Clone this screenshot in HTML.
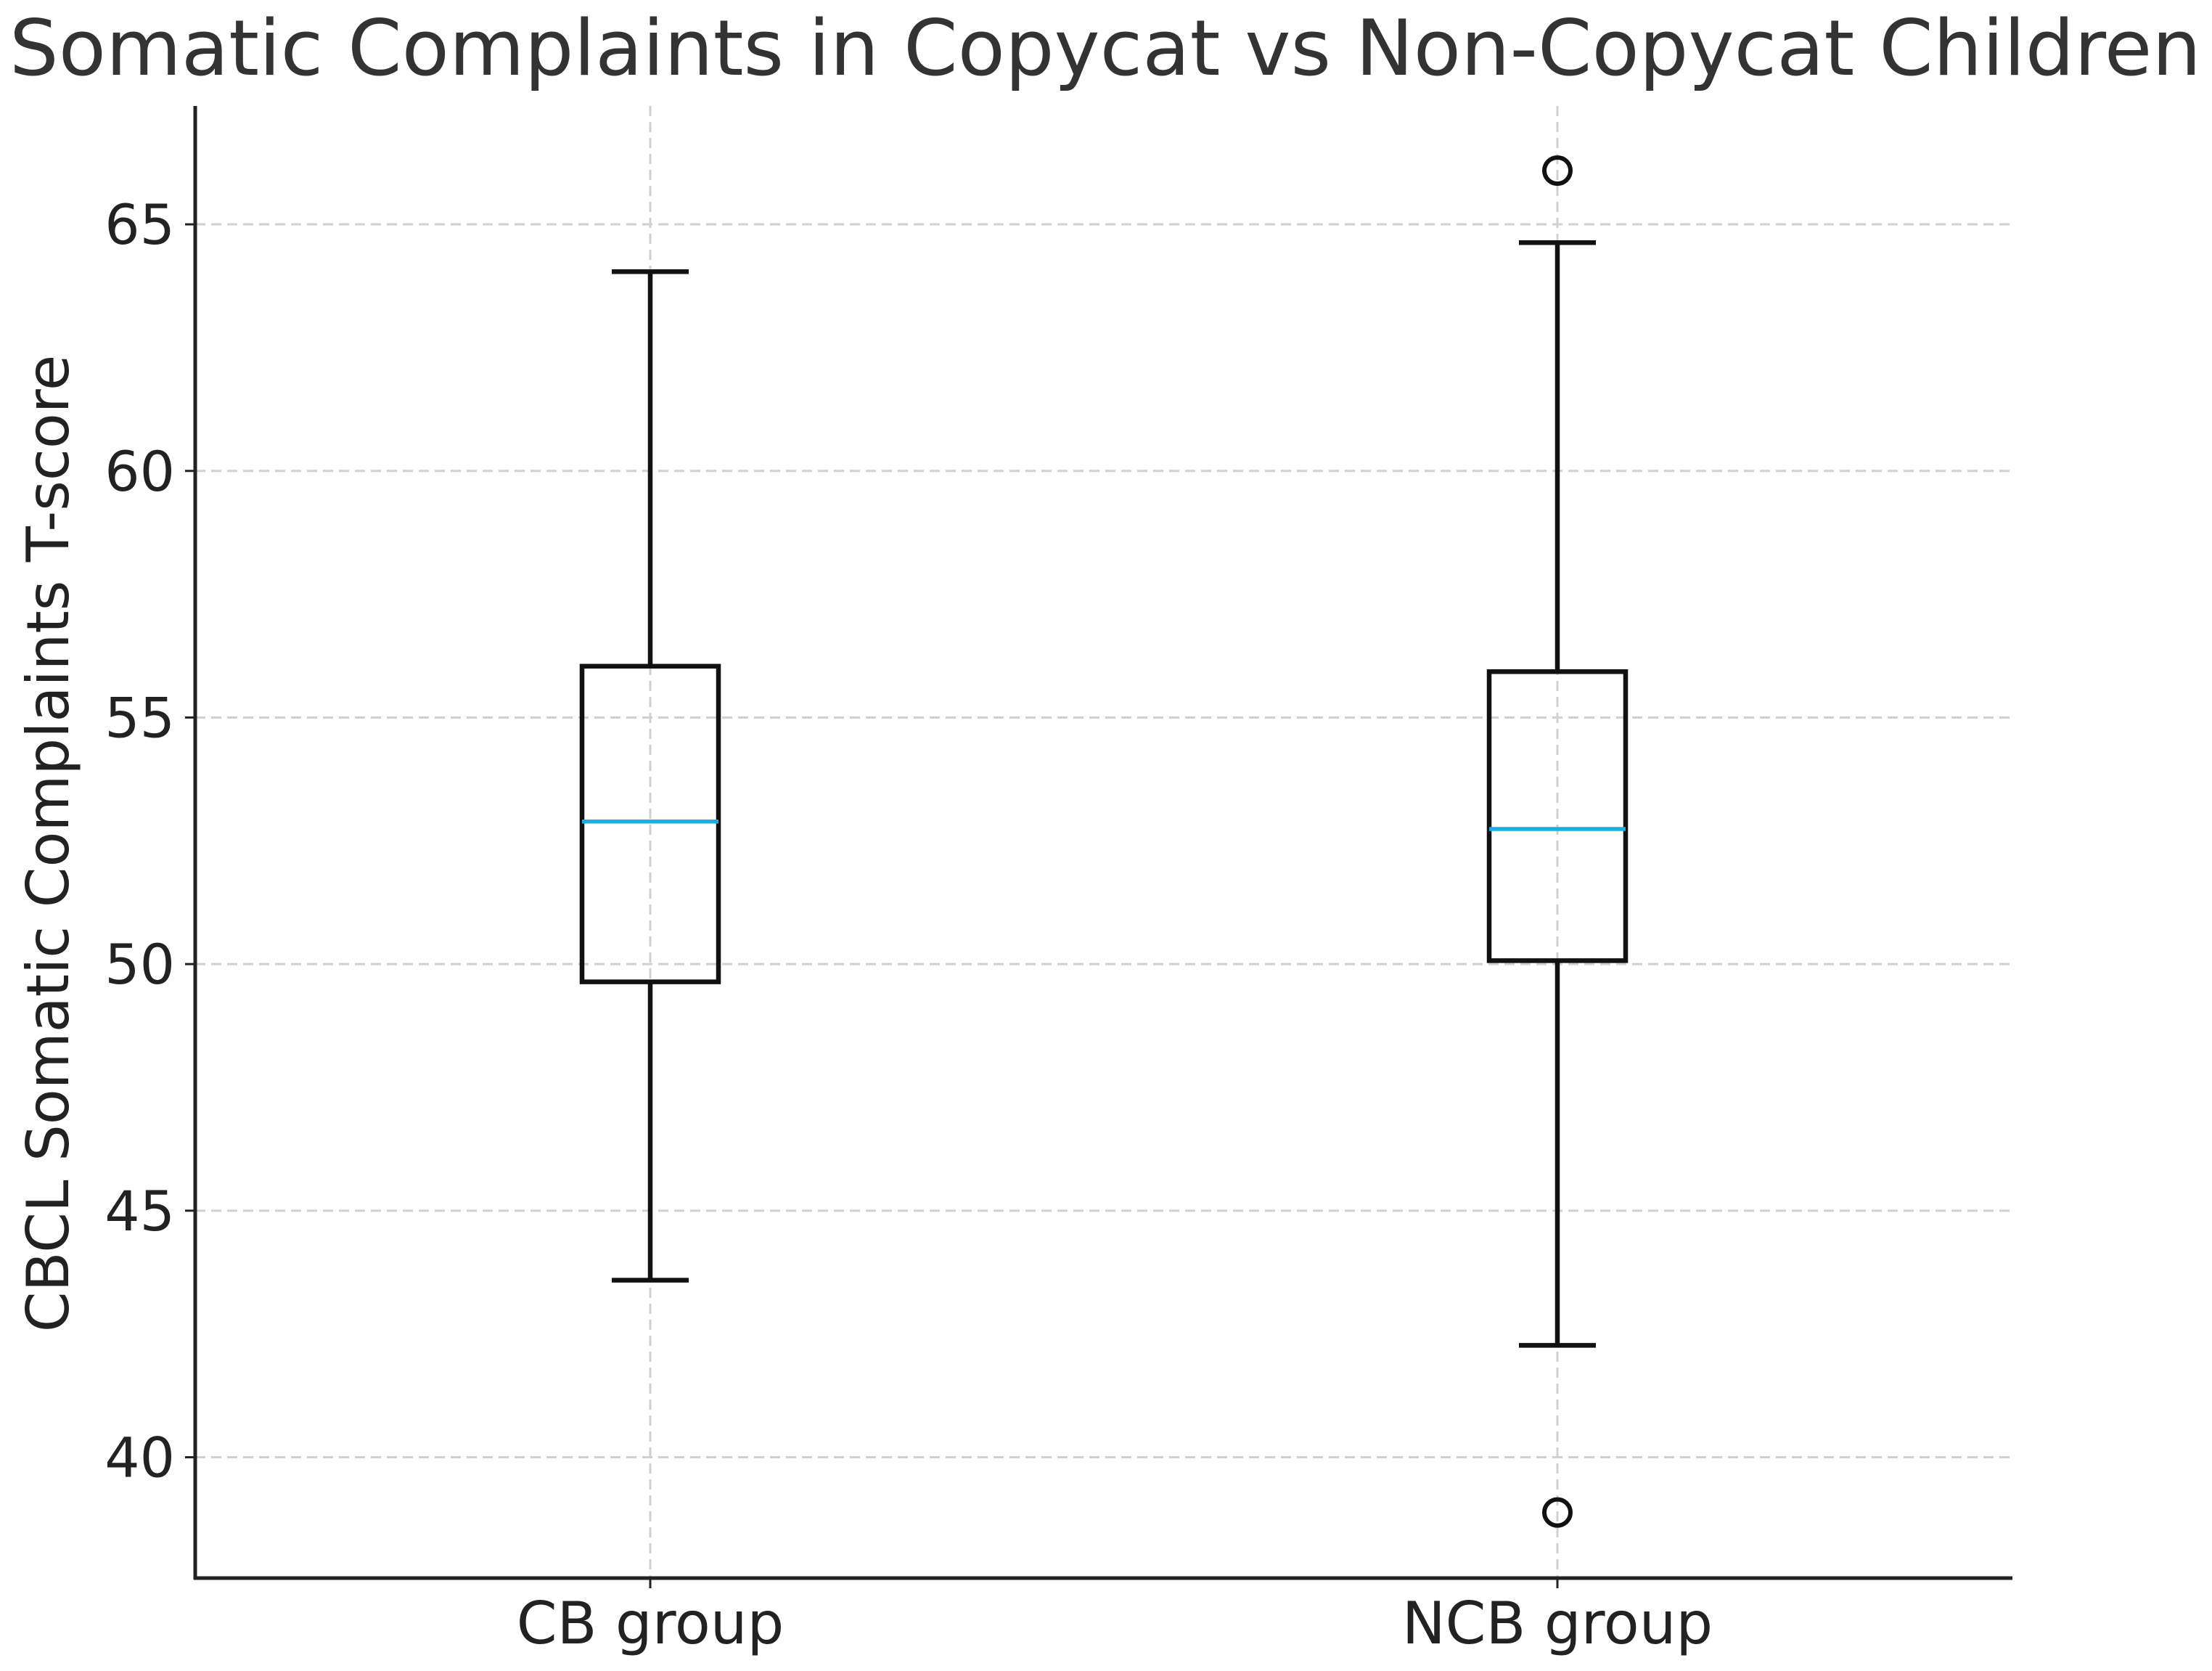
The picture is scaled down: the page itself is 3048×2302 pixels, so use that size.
<!DOCTYPE html>
<html><head><meta charset="utf-8"><style>
html,body{margin:0;padding:0;background:#fff}
svg{display:block;font-family:"DejaVu Sans","Liberation Sans",sans-serif}
</style></head><body>
<svg id="chart" width="3048" height="2302" viewBox="0 0 3048 2302" xmlns="http://www.w3.org/2000/svg">
<text x="1523" y="103" text-anchor="middle" font-size="106" fill="#333" textLength="3020" lengthAdjust="spacingAndGlyphs">Somatic Complaints in Copycat vs Non-Copycat Children</text>
<text transform="translate(94,1162) rotate(-90)" text-anchor="middle" font-size="80" fill="#222">CBCL Somatic Complaints T-score</text>
<g id="grid"></g><g id="marks"></g><g id="axes"></g>
</svg>
<script>
const categories = ["CB group", "NCB group"];
const whiskerLow = [43.59, 42.27];
const q1 = [49.64, 50.07];
const medians = [52.89, 52.74];
const q3 = [56.04, 55.93];
const whiskerHigh = [64.04, 64.63];
const outliers = [[], [66.09, 38.88]];
const yTicks = [40, 45, 50, 55, 60, 65];

const L = 269, R = 2773, T = 146, B = 2174;
const yMin = 37.55, yMax = 67.4;
const NS = "http://www.w3.org/2000/svg";
function y(v){ return B - (v - yMin) / (yMax - yMin) * (B - T); }
function x(i){ return 896 + i * 1250; }
function mk(tag, attrs, parent){
  const e = document.createElementNS(NS, tag);
  for (const k in attrs) e.setAttribute(k, attrs[k]);
  parent.appendChild(e); return e;
}
const grid = document.getElementById('grid'), marks = document.getElementById('marks'), axes = document.getElementById('axes');
yTicks.forEach(t => {
  const g = mk('line', {x1:L, x2:R, y1:y(t), y2:y(t), stroke:'#d0d0d0', 'stroke-width':3, 'stroke-dasharray':'14 8'}, grid);
  
  
  const tk = mk('line', {x1:L-14, x2:L, y1:y(t), y2:y(t), stroke:'#222', 'stroke-width':3}, axes);
  
  
  const lb = mk('text', {x:L-28, y:y(t)+27, 'text-anchor':'end', 'font-size':76, fill:'#222'}, axes);
  lb.textContent = t;
  
  
});
categories.forEach((c, i) => {
  const cx = x(i);
  const vg = mk('line', {x1:cx, x2:cx, y1:T, y2:B, stroke:'#d0d0d0', 'stroke-width':3, 'stroke-dasharray':'14 8'}, grid);
  
  
  const g = mk('g', {}, marks);
  
  
  const st = {stroke:'#111', 'stroke-width':6.5, fill:'none'};
  mk('line', Object.assign({x1:cx, x2:cx, y1:y(whiskerLow[i]), y2:y(q1[i])}, st), g);
  mk('line', Object.assign({x1:cx, x2:cx, y1:y(q3[i]), y2:y(whiskerHigh[i])}, st), g);
  mk('line', Object.assign({x1:cx-53, x2:cx+53, y1:y(whiskerLow[i]), y2:y(whiskerLow[i])}, st), g);
  mk('line', Object.assign({x1:cx-53, x2:cx+53, y1:y(whiskerHigh[i]), y2:y(whiskerHigh[i])}, st), g);
  mk('rect', Object.assign({x:cx-94, width:188, y:y(q3[i]), height:y(q1[i])-y(q3[i])}, st), g);
  mk('line', {x1:cx-94, x2:cx+94, y1:y(medians[i]), y2:y(medians[i]), stroke:'#1aaee6', 'stroke-width':5.5}, g);
  outliers[i].forEach(o => {
    const ci = mk('circle', {cx:cx, cy:y(o), r:18, fill:'none', stroke:'#111', 'stroke-width':6}, g);
    
    
  });
  const tk = mk('line', {x1:cx, x2:cx, y1:B, y2:B+14, stroke:'#222', 'stroke-width':3}, axes);
  
  
  const lb = mk('text', {x:cx, y:2264, 'text-anchor':'middle', 'font-size':80, fill:'#222'}, axes);
  lb.textContent = c;
  
  
});
const ya = mk('line', {x1:L, x2:L, y1:T, y2:B+2, stroke:'#222', 'stroke-width':5}, axes);


const xa = mk('line', {x1:L-2, x2:R, y1:B, y2:B, stroke:'#222', 'stroke-width':5}, axes);


</script>
</body></html>
